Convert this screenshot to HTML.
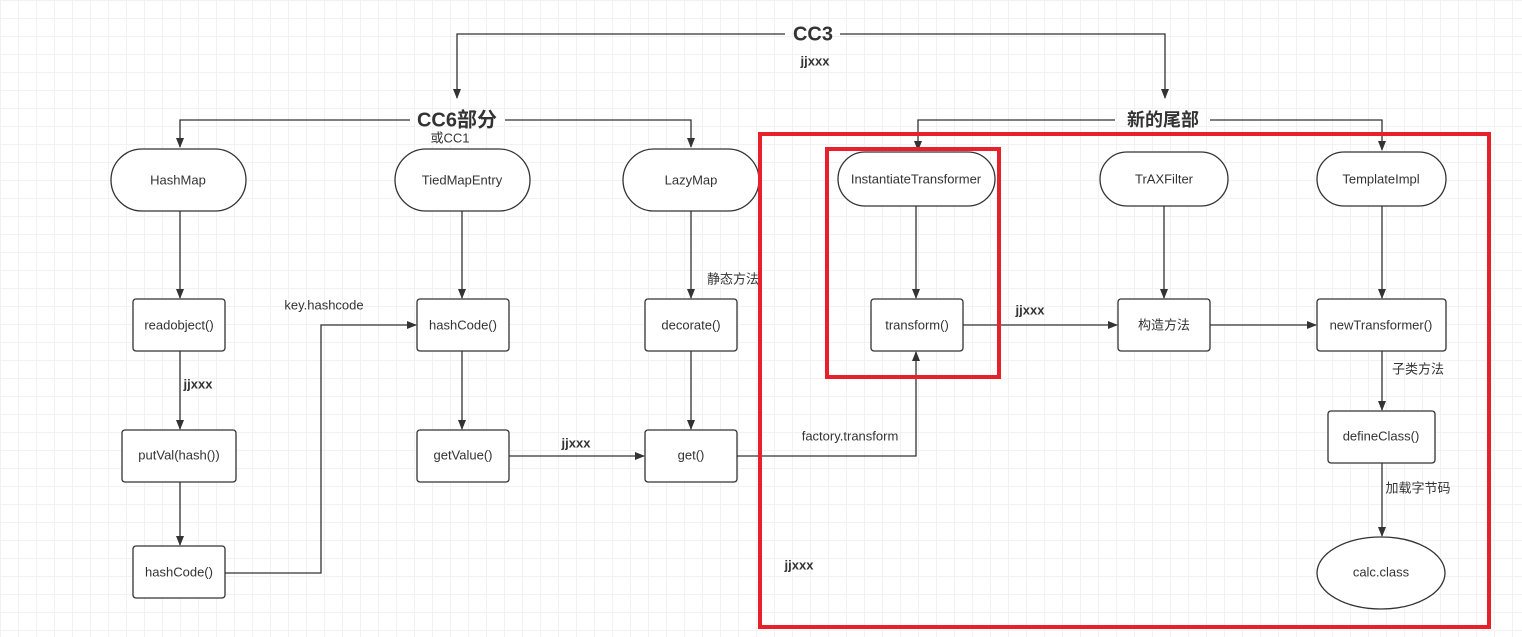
<!DOCTYPE html>
<html><head><meta charset="utf-8"><style>
html,body{margin:0;padding:0;}
body{width:1522px;height:637px;overflow:hidden;background-color:#fff;
background-image:linear-gradient(#f2f2f2 1px,transparent 1px),linear-gradient(90deg,#f2f2f2 1px,transparent 1px);
background-size:18px 18px;}
svg{position:absolute;left:0;top:0;}
text{font-family:"Liberation Sans","Noto Sans CJK SC",sans-serif;fill:#333;}
.n{font-size:13px;text-anchor:middle;dominant-baseline:middle;}
.b{font-weight:bold;}
</style></head><body>
<svg width="1522" height="637" viewBox="0 0 1522 637">
<defs><marker id="a" markerWidth="10" markerHeight="10" refX="9" refY="5" orient="auto" markerUnits="userSpaceOnUse"><path d="M0,1 L10,5 L0,9 Z" fill="#333"/></marker></defs>
<g fill="none" stroke="#333" stroke-width="1.3">
<path d="M785,34 H457 V98" marker-end="url(#a)"/>
<path d="M840,34 H1165 V98" marker-end="url(#a)"/>
<path d="M410,120 H180 V147" marker-end="url(#a)"/>
<path d="M505,120 H691 V147" marker-end="url(#a)"/>
<path d="M1115,120 H918 V150" marker-end="url(#a)"/>
<path d="M1210,120 H1382 V150" marker-end="url(#a)"/>
<path d="M180,211 V298" marker-end="url(#a)"/>
<path d="M180,351 V429" marker-end="url(#a)"/>
<path d="M180,482 V545" marker-end="url(#a)"/>
<path d="M225,573 H321 V325 H416" marker-end="url(#a)"/>
<path d="M462,211 V298" marker-end="url(#a)"/>
<path d="M462,351 V429" marker-end="url(#a)"/>
<path d="M509,456 H644" marker-end="url(#a)"/>
<path d="M691,211 V298" marker-end="url(#a)"/>
<path d="M691,351 V429" marker-end="url(#a)"/>
<path d="M737,456 H916 V352" marker-end="url(#a)"/>
<path d="M916,206 V298" marker-end="url(#a)"/>
<path d="M963,325 H1117" marker-end="url(#a)"/>
<path d="M1210,325 H1316" marker-end="url(#a)"/>
<path d="M1164,206 V298" marker-end="url(#a)"/>
<path d="M1382,206 V298" marker-end="url(#a)"/>
<path d="M1382,351 V410" marker-end="url(#a)"/>
<path d="M1382,463 V536" marker-end="url(#a)"/>
</g>
<g fill="#fff" stroke="#333" stroke-width="1.3">
<rect x="111" y="149" width="135" height="62" rx="31"/>
<rect x="395" y="149" width="135" height="62" rx="31"/>
<rect x="623" y="149" width="136" height="62" rx="31"/>
<rect x="838" y="152" width="157" height="54" rx="27"/>
<rect x="1100" y="152" width="128" height="54" rx="27"/>
<rect x="1317" y="152" width="129" height="54" rx="27"/>
<rect x="133" y="299" width="92" height="52" rx="3"/>
<rect x="417" y="299" width="92" height="52" rx="3"/>
<rect x="645" y="299" width="92" height="52" rx="3"/>
<rect x="871" y="299" width="92" height="52" rx="3"/>
<rect x="1118" y="299" width="92" height="52" rx="3"/>
<rect x="1317" y="299" width="129" height="52" rx="3"/>
<rect x="122" y="430" width="114" height="52" rx="3"/>
<rect x="417" y="430" width="92" height="52" rx="3"/>
<rect x="645" y="430" width="92" height="52" rx="3"/>
<rect x="1328" y="411" width="107" height="52" rx="3"/>
<rect x="133" y="546" width="92" height="52" rx="3"/>
<ellipse cx="1381" cy="573" rx="64" ry="36"/>
</g>
<g fill="none" stroke="#e8202a" stroke-width="4">
<rect x="760" y="134" width="729" height="493"/>
<rect x="827" y="149" width="172" height="228"/>
</g>
<text class="n b" x="813" y="35" style="font-size:20px">CC3</text>
<text class="n b" x="815" y="62">jjxxx</text>
<text class="n b" x="457" y="121" style="font-size:20px">CC6部分</text>
<text class="n" x="450" y="139">或CC1</text>
<text class="n b" x="1163" y="121" style="font-size:18px">新的尾部</text>
<text class="n" x="178" y="181">HashMap</text>
<text class="n" x="462" y="181">TiedMapEntry</text>
<text class="n" x="691" y="181">LazyMap</text>
<text class="n" x="916" y="180">InstantiateTransformer</text>
<text class="n" x="1164" y="180">TrAXFilter</text>
<text class="n" x="1381" y="180">TemplateImpl</text>
<text class="n" x="179" y="326">readobject()</text>
<text class="n" x="463" y="326">hashCode()</text>
<text class="n" x="691" y="326">decorate()</text>
<text class="n" x="917" y="326">transform()</text>
<text class="n" x="1164" y="326">构造方法</text>
<text class="n" x="1381" y="326">newTransformer()</text>
<text class="n" x="179" y="456">putVal(hash())</text>
<text class="n" x="463" y="456">getValue()</text>
<text class="n" x="691" y="456">get()</text>
<text class="n" x="1381" y="437">defineClass()</text>
<text class="n" x="179" y="573">hashCode()</text>
<text class="n" x="1381" y="573">calc.class</text>
<text class="n b" x="198" y="385">jjxxx</text>
<text class="n" x="324" y="306">key.hashcode</text>
<text class="n b" x="576" y="444">jjxxx</text>
<text class="n" x="733" y="280">静态方法</text>
<text class="n" x="850" y="437">factory.transform</text>
<text class="n b" x="1030" y="311">jjxxx</text>
<text class="n" x="1418" y="370">子类方法</text>
<text class="n" x="1418" y="489">加载字节码</text>
<text class="n b" x="799" y="566">jjxxx</text>
</svg>
</body></html>
